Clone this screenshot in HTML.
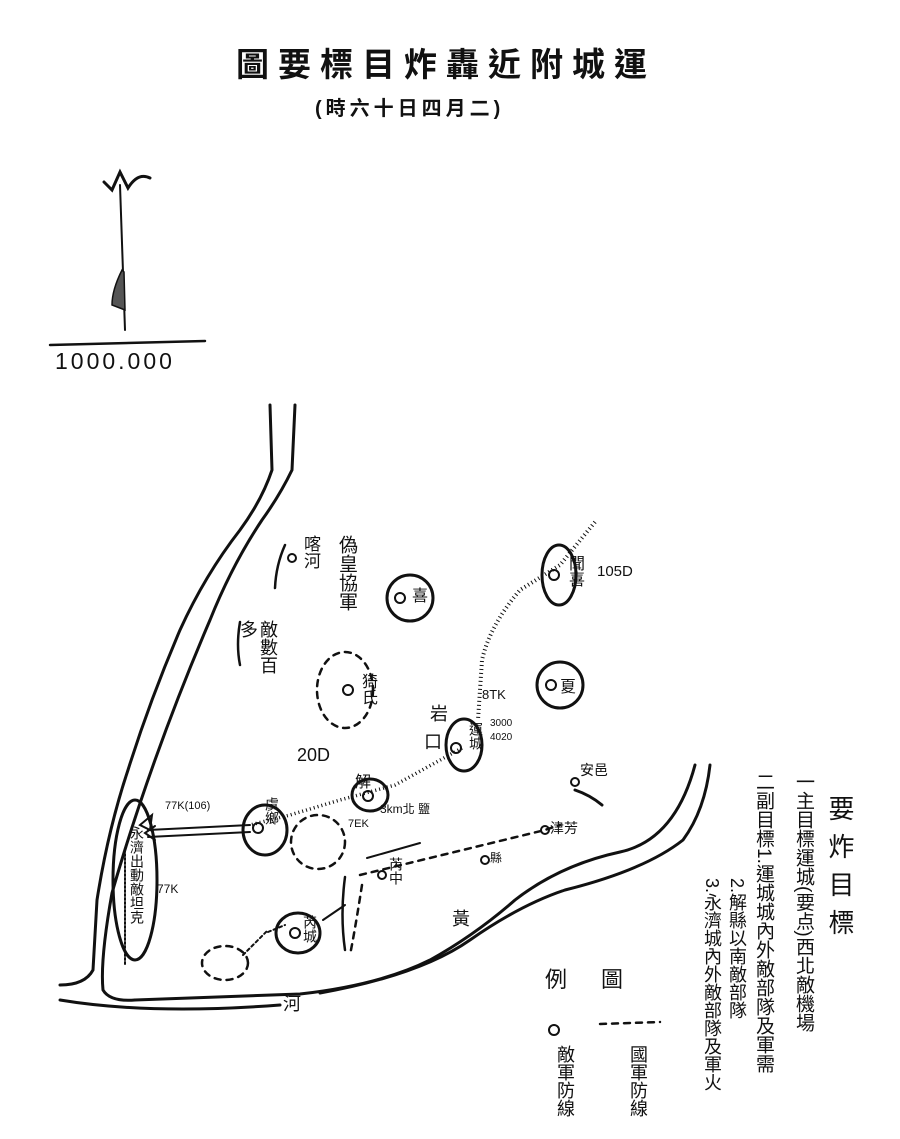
<!DOCTYPE html>
<html><head><meta charset="utf-8"><style>
body{margin:0;background:#fff;}
#w{position:relative;width:900px;height:1139px;overflow:hidden;font-family:"Liberation Sans","Noto Sans CJK TC",sans-serif;color:#111;}
.t{position:absolute;white-space:nowrap;}
.v{position:absolute;writing-mode:vertical-rl;font-family:"Liberation Sans","Noto Sans CJK TC",sans-serif;}
</style></head><body><div id="w">
<svg width="900" height="1139" style="position:absolute;left:0;top:0" fill="none" stroke="#111" stroke-width="3" stroke-linecap="round">
<path d="M120,185 L125,330" stroke-width="2"/>
<path d="M104,182 L112,190 L120,172 L128,188 Q138,172 150,178" stroke-width="3"/>
<path d="M122,270 Q112,290 112,305 L125,310 L124,272 Z" fill="#555" stroke-width="1.5"/>
<path d="M50,345 L205,341" stroke-width="2.5"/>
<path d="M270,405 L272,470 Q262,500 240,530 Q205,575 180,630 Q150,700 128,770 Q108,830 97,900 L93,970 Q85,985 60,985"/>
<path d="M295,405 L292,470 Q280,495 262,520 Q232,565 210,620 Q180,690 155,760 Q130,830 112,893 Q100,960 103,990 Q110,1002 135,1000"/>
<path d="M240,622 Q236,645 240,665" stroke-width="2.5"/>
<path d="M285,545 Q276,565 275,588" stroke-width="2.5"/>
<path d="M135,1000 L300,994 Q380,985 430,960 Q475,935 515,900 Q560,865 620,852 Q675,840 695,765"/>
<path d="M60,1000 Q150,1015 280,1005 M320,993 Q420,975 470,940 Q520,905 565,890 Q645,870 683,840 Q705,810 710,765"/>
<circle cx="410" cy="598" r="23"/>
<circle cx="560" cy="685" r="23"/>
<ellipse cx="559" cy="575" rx="17" ry="30"/>
<ellipse cx="464" cy="745" rx="18" ry="26"/>
<ellipse cx="370" cy="795" rx="18" ry="16"/>
<ellipse cx="265" cy="830" rx="22" ry="25"/>
<ellipse cx="298" cy="933" rx="22" ry="20"/>
<ellipse cx="135" cy="880" rx="22" ry="80"/>
<g stroke-dasharray="6 6" stroke-width="2.5">
<ellipse cx="345" cy="690" rx="28" ry="38"/>
<ellipse cx="318" cy="842" rx="27" ry="27"/>
<ellipse cx="225" cy="963" rx="23" ry="17"/>
<path d="M360,875 L545,830 L560,825"/>
<path d="M362,885 Q355,930 350,955"/>
<path d="M600,1024 L660,1022"/>
</g>
<path d="M345,877 Q340,915 345,950" stroke-width="2.5"/>
<path d="M367,858 L420,843" stroke-width="2"/>
<path d="M575,790 Q590,795 602,805"/>
<path d="M595,522 L560,565 L520,590 Q490,625 482,660 L478,720" stroke-width="4" stroke-dasharray="1 3" stroke-linecap="butt"/>
<path d="M462,748 L395,785 L340,800 L290,815 L250,825" stroke-width="3.5" stroke-dasharray="1 3" stroke-linecap="butt"/>
<path d="M250,825 L148,830 M250,832 L148,837" stroke-width="2"/>
<path d="M155,826 L145,833 L155,840" stroke-width="2"/>
<path d="M140,825 L152,815 L150,830 Z" stroke-width="2"/>
<path d="M268,932 L285,925 M243,955 L268,930" stroke-width="2" stroke-dasharray="3 3"/>
<path d="M323,920 L345,905" stroke-width="2"/>
<path d="M125,850 L125,965" stroke-width="2" stroke-dasharray="2 2"/>
<g stroke-width="2">
<circle cx="292" cy="558" r="4"/><circle cx="400" cy="598" r="5"/><circle cx="348" cy="690" r="5"/>
<circle cx="554" cy="575" r="5"/><circle cx="551" cy="685" r="5"/><circle cx="456" cy="748" r="5"/>
<circle cx="368" cy="796" r="5"/><circle cx="258" cy="828" r="5"/><circle cx="295" cy="933" r="5"/>
<circle cx="575" cy="782" r="4"/><circle cx="545" cy="830" r="4"/><circle cx="485" cy="860" r="4"/>
<circle cx="382" cy="875" r="4"/><circle cx="554" cy="1030" r="5"/>
</g>
</svg>
<div class="t" style="left:236px;top:38px;font-size:33px;letter-spacing:9px;font-weight:bold;">圖要標目炸轟近附城運</div>
<div class="t" style="left:315px;top:92px;font-size:20px;letter-spacing:4px;font-weight:bold;">(時六十日四月二)</div>
<div class="t" style="left:55px;top:348px;font-size:23px;letter-spacing:3px;">1000.000</div>
<div class="v" style="left:298px;top:535px;font-size:17px;">喀河</div>
<div class="v" style="left:333px;top:535px;font-size:19px;">偽皇協軍</div>
<div class="t" style="left:412px;top:582px;font-size:16px;">喜</div>
<div class="v" style="left:238px;top:620px;font-size:18px;line-height:20px;height:60px;">敵數百多</div>
<div class="v" style="left:562px;top:555px;font-size:16px;">聞喜</div>
<div class="t" style="left:597px;top:563px;font-size:15px;">105D</div>
<div class="t" style="left:560px;top:673px;font-size:16px;">夏</div>
<div class="v" style="left:355px;top:673px;font-size:16px;">猗氏</div>
<div class="t" style="left:482px;top:687px;font-size:13px;">8TK</div>
<div class="t" style="left:430px;top:700px;font-size:18px;">岩</div>
<div class="t" style="left:424px;top:728px;font-size:18px;">口</div>
<div class="t" style="left:297px;top:745px;font-size:18px;">20D</div>
<div class="v" style="left:466px;top:722px;font-size:14px;">運城</div>
<div class="t" style="left:490px;top:717px;font-size:10px;line-height:14px;">3000<br>4020</div>
<div class="t" style="left:580px;top:760px;font-size:14px;">安邑</div>
<div class="t" style="left:355px;top:768px;font-size:16px;">解</div>
<div class="t" style="left:380px;top:800px;font-size:12px;">3km北 鹽</div>
<div class="t" style="left:348px;top:818px;font-size:11px;">7EK</div>
<div class="t" style="left:165px;top:800px;font-size:11px;">77K(106)</div>
<div class="v" style="left:262px;top:797px;font-size:14px;">虞鄉</div>
<div class="v" style="left:127px;top:826px;font-size:14px;">永濟出動敵坦克</div>
<div class="t" style="left:157px;top:882px;font-size:12px;">77K</div>
<div class="v" style="left:386px;top:857px;font-size:14px;">芮中</div>
<div class="t" style="left:490px;top:849px;font-size:12px;">縣</div>
<div class="t" style="left:550px;top:818px;font-size:14px;">津芳</div>
<div class="v" style="left:300px;top:915px;font-size:14px;">芮城</div>
<div class="t" style="left:452px;top:905px;font-size:18px;">黃</div>
<div class="t" style="left:283px;top:990px;font-size:18px;">河</div>
<div class="v" style="left:822px;top:795px;font-size:26px;letter-spacing:12px;">要炸目標</div>
<div class="v" style="left:792px;top:772px;font-size:19px;line-height:22px;">一主目標運城(要点)西北敵機場</div>
<div class="v" style="left:752px;top:772px;font-size:19px;line-height:22px;">二副目標1.運城城內外敵部隊及軍需</div>
<div class="v" style="left:727px;top:878px;font-size:18px;line-height:20px;">2.解縣以南敵部隊</div>
<div class="v" style="left:702px;top:878px;font-size:18px;line-height:20px;">3.永濟城內外敵部隊及軍火</div>
<div class="t" style="left:545px;top:962px;font-size:22px;letter-spacing:34px;">例圖</div>
<div class="v" style="left:552px;top:1045px;font-size:18px;">敵軍防線</div>
<div class="v" style="left:625px;top:1045px;font-size:18px;">國軍防線</div>
</div></body></html>
